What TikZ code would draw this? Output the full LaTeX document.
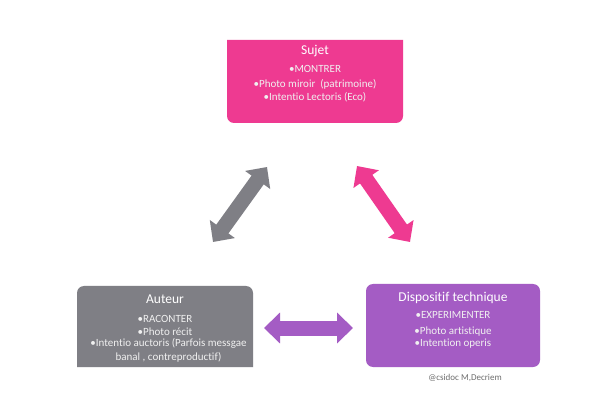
\documentclass[tikz,border=0pt]{standalone}
\usepackage{fontspec}
\setmainfont{Carlito}[Ligatures=NoCommon]
\usetikzlibrary{arrows.meta}
\definecolor{pinkc}{HTML}{EE3A91}
\definecolor{grayc}{HTML}{7F7F85}
\definecolor{purpc}{HTML}{A45CC4}
\definecolor{credc}{HTML}{6E6E6E}
\tikzset{
  titletext/.style={anchor=base, text=white, inner sep=0pt, font=\fontsize{13.5}{15}\selectfont},
  bultext/.style={anchor=base, text=white!94!black, inner sep=0pt, font=\fontsize{11}{12}\selectfont},
  dbl/.style={line width=15pt, {Triangle[length=16pt,width=30pt]}-{Triangle[length=16pt,width=30pt]}},
}
\begin{document}
\begin{tikzpicture}[x=1pt,y=-1pt]
\useasboundingbox[fill=white] (0,0) rectangle (599,419);
% boxes
\fill[pinkc, rounded corners=7pt] (227,40) [sharp corners] -- (403,40) [rounded corners=7pt] -- (403,123) -- (227,123) [sharp corners] -- cycle;
\fill[grayc, rounded corners=7pt] (77,367) [sharp corners] -- (77,367) [rounded corners=7pt] -- (77,286) -- (253,286) [sharp corners] -- (253,367) -- cycle;
\fill[purpc, rounded corners=7pt] (366,284) rectangle (540,367);
% Sujet
\node[titletext] (sujetT) at (315,55) {Sujet};
\node[bultext] (sujet1) at (315,72.3) {•MONTRER};
\node[bultext] (sujet2) at (315,87.5) {•Photo miroir\ \ (patrimoine)};
\node[bultext] (sujet3) at (315,100.7) {•Intentio Lectoris (Eco)};
% Auteur
\node[titletext] (auteurT) at (165,304) {Auteur};
\node[bultext] (auteur1) at (165,322.7) {•RACONTER};
\node[bultext] (auteur2) at (165,335) {•Photo récit};
\node[bultext] (auteur3) at (168.5,346.7) {•Intentio auctoris (Parfois messgae};
\node[bultext] (auteur4) at (168.5,360) {banal , contreproductif)};
% Dispositif
\node[titletext] (dispT) at (453,301.7) {Dispositif technique};
\node[bultext] (disp1) at (453,319) {•EXPERIMENTER};
\node[bultext] (disp2) at (453,334) {•Photo artistique};
\node[bultext] (disp3) at (453,346) {•Intention operis};
\node[anchor=base, text=credc, inner sep=0pt, font=\fontsize{9}{10}\selectfont] (credit) at (465,380) {@csidoc M,Decriem};
% arrows
\coordinate (g1) at (213,242);
\coordinate (g2) at (267,167);
\coordinate (p1) at (357,166);
\coordinate (p2) at (410,242);
\coordinate (v1) at (264,328);
\coordinate (v2) at (353,328);
\draw[dbl, grayc] (g1) -- (g2);
\draw[dbl, pinkc] (p1) -- (p2);
\draw[dbl, purpc] (v1) -- (v2);
\end{tikzpicture}
\end{document}
